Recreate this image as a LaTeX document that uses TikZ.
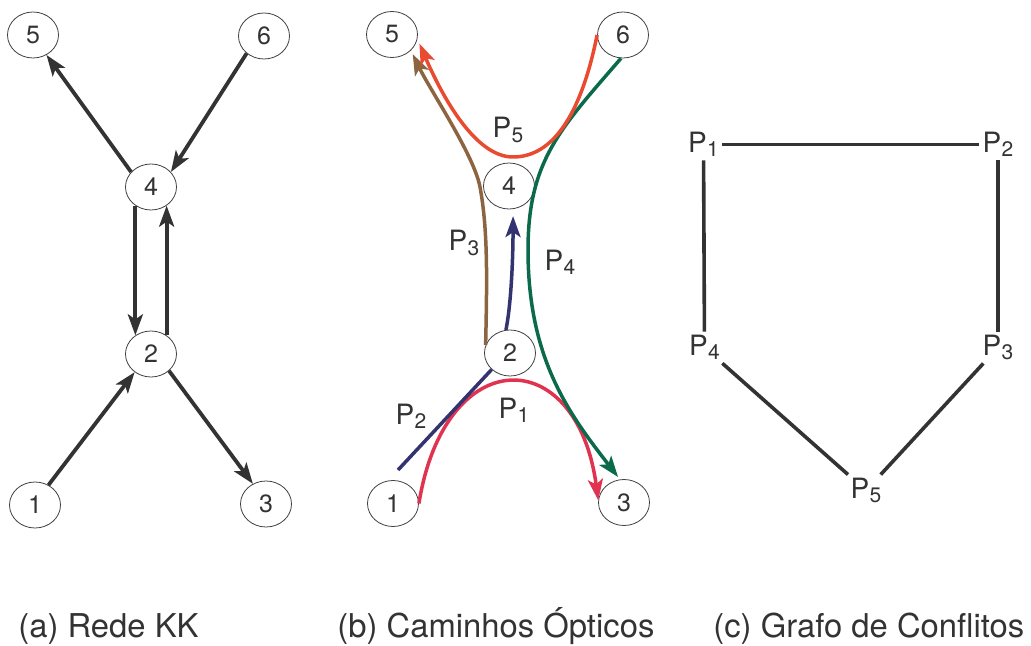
\documentclass[tikz,border=0pt]{standalone}
\usepackage{fontspec}
\setmainfont{TeX Gyre Heros}
\usetikzlibrary{shapes,arrows.meta}
\tikzset{>={Stealth[length=10.5pt,width=7.5pt,inset=2.5pt]}}

\definecolor{cinza}{HTML}{333333}
\definecolor{vermelho}{HTML}{E0334F}
\definecolor{azul}{HTML}{33336F}
\definecolor{marrom}{HTML}{8C6440}
\definecolor{verde}{HTML}{0A6A4B}
\definecolor{laranja}{HTML}{E94B30}

\tikzset{
    no/.style={ellipse,draw=black!75,line width=.4pt,minimum width=25.5pt,
        minimum height=23pt,inner sep=0pt,text=cinza,
        font=\fontsize{12.5}{14}\selectfont},
    enlace/.style={->,draw=cinza,line width=1.9pt},
    caminho/.style={line width=1.75pt},
    rotulo/.style={inner sep=1.5pt,text=cinza,font=\fontsize{14}{16}\selectfont},
    aresta/.style={draw=cinza,line width=1.8pt},
    legenda/.style={anchor=base west,inner sep=0pt,text=cinza,
        font=\fontsize{16.4}{18}\selectfont}
}
\newcommand{\pth}[1]{P\kern.2pt\raisebox{-2.2pt}{\fontsize{10.5}{12}\selectfont #1}}

\begin{document}
\begin{tikzpicture}[x=.5pt,y=-.5pt]
    \useasboundingbox (0,0) rectangle (1031,646);

    % (a) rede KK
    \node[no] (a5) at (33,35) {5};
    \node[no] (a6) at (264,36) {6};
    \node[no] (a4) at (151,187) {4};
    \node[no] (a2) at (151,354) {2};
    \node[no] (a1) at (35,505) {1};
    \node[no] (a3) at (266,504) {3};

    \draw[enlace] (a4.143) -- (a5.304);
    \draw[enlace] (a6.225) -- (a4.37);
    \draw[enlace] (a4.230) -- (a2.130);
    \draw[enlace] (a2.50) -- (a4.310);
    \draw[enlace] (a1.56) -- (a2.228);
    \draw[enlace] (a2.317) -- (a3.123);

    % (b) caminhos
    \node[no] (b5) at (392,34.5) {5};
    \node[no] (b6) at (623,35) {6};
    \node[no] (b4) at (509,186) {4};
    \node[no] (b2) at (510,353) {2};
    \node[no] (b1) at (393,503.5) {1};
    \node[no] (b3) at (624,502.5) {3};
    \coordinate (p2ini) at (398,470);

    \draw[caminho,->,vermelho] (b1.east) .. controls (445,342) and (577,342) .. (b3.175);
    \draw[caminho,azul] (p2ini) -- (b2.222);
    \draw[caminho,->,azul,shorten >=3.5pt] (b2.100) .. controls (511,305) and (513,260) .. (b4.280);
    \draw[caminho,->,marrom,shorten >=2pt] (b2.162) .. controls (487,280) and (488,230) .. (480,187)
        .. controls (474,155) and (430,90) .. (b5.320);
    \draw[caminho,->,verde,shorten >=1.5pt] (b6.265) .. controls (561,128) and (528,160) .. (528,250)
        .. controls (528,360) and (570,415) .. (b3.100);
    \draw[caminho,->,laranja,shorten >=2.5pt] (b6.west) .. controls (582,110) and (555,157) .. (513,157)
        .. controls (475,157) and (442,96) .. (b5.350);

    \node[rotulo] (l5) at (508,130) {\pth5};
    \node[rotulo] (l3) at (464,243) {\pth3};
    \node[rotulo] (l4) at (560,262) {\pth4};
    \node[rotulo] (l2) at (411,416) {\pth2};
    \node[rotulo] (l1) at (514,410) {\pth1};

    % (c) grafo de conflitos
    \node[rotulo] (c1) at (703.5,144.5) {\pth1};
    \node[rotulo] (c2) at (998,144.5) {\pth2};
    \node[rotulo] (c4) at (704.5,347.5) {\pth4};
    \node[rotulo] (c3) at (998,347.5) {\pth3};
    \node[rotulo] (c5) at (866,490.5) {\pth5};

    \draw[aresta] (c1) -- (c2);
    \draw[aresta] (c1) -- (c4);
    \draw[aresta] (c2) -- (c3);
    \draw[aresta] (c4) -- (c5);
    \draw[aresta] (c3) -- (c5);

    % legendas
    \node[legenda] (leg1) at (18,637) {(a) Rede KK};
    \node[legenda] (leg2) at (337,637) {(b) Caminhos Ópticos};
    \node[legenda] (leg3) at (713,637) {(c) Grafo de Conflitos};
\end{tikzpicture}
\end{document}
